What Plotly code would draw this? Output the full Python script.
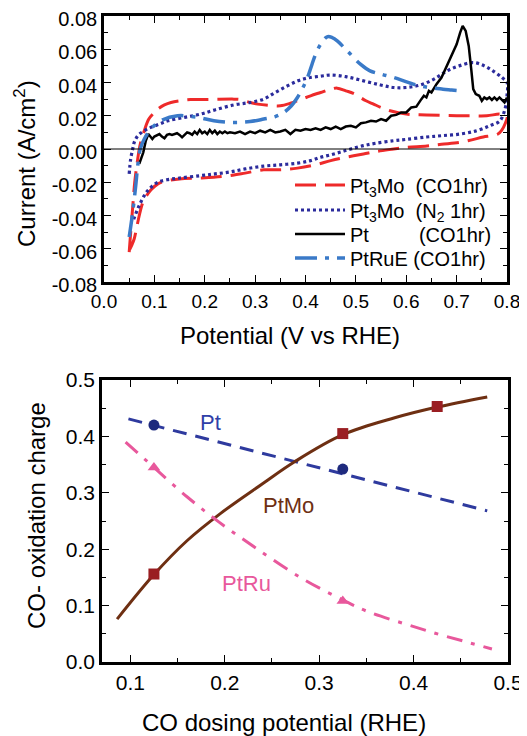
import plotly.graph_objects as go

# ---------------- top panel: cyclic voltammograms ----------------
pt3mo_co_v = [0.05, 0.053, 0.057, 0.061, 0.066, 0.072, 0.08, 0.089, 0.1, 0.107, 0.12, 0.133, 0.15, 0.172, 0.21, 0.258,
              0.27, 0.29, 0.305, 0.33, 0.35, 0.37, 0.39, 0.41, 0.43, 0.45, 0.463, 0.48, 0.495, 0.52, 0.535, 0.55,
              0.568, 0.6, 0.64, 0.7, 0.727, 0.76, 0.786, 0.8,
              0.796, 0.789, 0.782, 0.77, 0.753, 0.73, 0.707, 0.67, 0.641, 0.6, 0.575, 0.54, 0.515, 0.48, 0.45,
              0.42, 0.384, 0.35, 0.317, 0.28, 0.25, 0.218, 0.19, 0.15, 0.12, 0.107, 0.095, 0.087, 0.08, 0.075,
              0.07, 0.065, 0.06, 0.055, 0.05]
pt3mo_co_i = [-0.062, -0.05, -0.035, -0.02, -0.008, 0.003, 0.011, 0.018, 0.022, 0.024, 0.0265, 0.028, 0.029, 0.0297,
              0.0298, 0.030, 0.0298, 0.028, 0.027, 0.0262, 0.026, 0.0275, 0.0297, 0.032, 0.034, 0.036, 0.0366,
              0.035, 0.0335, 0.029, 0.027, 0.025, 0.023, 0.021, 0.0205, 0.020, 0.020, 0.020, 0.021, 0.020,
              0.015, 0.011, 0.009, 0.008, 0.0072, 0.0055, 0.004, 0.0028, 0.0018, 0.001, 0.0, -0.0015, -0.003,
              -0.005, -0.007, -0.0095, -0.0115, -0.0125, -0.0125, -0.0145, -0.016, -0.017, -0.0175, -0.018,
              -0.0195, -0.021, -0.024, -0.027, -0.030, -0.034, -0.04, -0.047, -0.054, -0.058, -0.061]

pt3mo_n2_v = [0.05, 0.053, 0.057, 0.06, 0.066, 0.073, 0.083, 0.093, 0.11, 0.127, 0.16, 0.192, 0.22, 0.258, 0.29,
              0.317, 0.34, 0.364, 0.385, 0.404, 0.43, 0.45, 0.48, 0.515, 0.549, 0.575, 0.6, 0.628, 0.655, 0.681,
              0.705, 0.733, 0.755, 0.772, 0.79, 0.8,
              0.8, 0.796, 0.786, 0.766, 0.74, 0.707, 0.67, 0.64, 0.6, 0.575, 0.54, 0.515, 0.49, 0.47, 0.45, 0.43,
              0.41, 0.384, 0.35, 0.317, 0.28, 0.25, 0.22, 0.192, 0.15, 0.125, 0.107, 0.095, 0.087, 0.08, 0.073,
              0.067, 0.063, 0.058]
pt3mo_n2_i = [-0.015, -0.006, 0.0, 0.004, 0.0075, 0.0096, 0.0115, 0.013, 0.015, 0.017, 0.019, 0.021, 0.0235, 0.0265,
              0.028, 0.030, 0.034, 0.038, 0.041, 0.0427, 0.0438, 0.0445, 0.0435, 0.041, 0.0385, 0.037, 0.037,
              0.0385, 0.042, 0.047, 0.050, 0.052, 0.050, 0.047, 0.043, 0.040,
              0.032, 0.024, 0.017, 0.014, 0.011, 0.009, 0.008, 0.0072, 0.0058, 0.005, 0.0035, 0.002, 0.0, -0.0018,
              -0.0035, -0.005, -0.007, -0.0085, -0.0095, -0.0103, -0.012, -0.0138, -0.015, -0.016, -0.0175,
              -0.0185, -0.020, -0.0225, -0.025, -0.028, -0.032, -0.036, -0.039, -0.043]

pt_co_v = [0.070, 0.078, 0.083, 0.088, 0.092, 0.096, 0.100, 0.105, 0.11, 0.115, 0.12, 0.125, 0.13, 0.135, 0.14,
           0.145, 0.15, 0.155, 0.16, 0.165, 0.17, 0.175, 0.18, 0.185, 0.19, 0.195, 0.2, 0.205, 0.21, 0.215, 0.22,
           0.225, 0.23, 0.235, 0.24, 0.245, 0.25, 0.26, 0.27, 0.28, 0.29, 0.3, 0.31, 0.32, 0.33, 0.34, 0.35, 0.36,
           0.37, 0.38, 0.39, 0.40, 0.41, 0.42, 0.43, 0.44, 0.45, 0.46, 0.47, 0.48, 0.49, 0.50, 0.51, 0.52, 0.53,
           0.54, 0.55, 0.555, 0.56, 0.57, 0.58, 0.59, 0.6, 0.61, 0.62, 0.63, 0.635, 0.64, 0.645, 0.65, 0.655,
           0.66, 0.67, 0.68, 0.69, 0.70, 0.707, 0.712, 0.718, 0.724, 0.729, 0.733, 0.738, 0.745, 0.75, 0.755,
           0.76, 0.765, 0.77, 0.775, 0.78, 0.785, 0.79, 0.795, 0.8]
pt_co_i = [-0.009, -0.002, 0.005, 0.009, 0.0075, 0.006, 0.0075, 0.0085, 0.009, 0.0075, 0.0065, 0.0085, 0.009,
           0.0085, 0.009, 0.0095, 0.0085, 0.007, 0.0085, 0.010, 0.0095, 0.0085, 0.0105, 0.009, 0.0115, 0.0095,
           0.0105, 0.009, 0.0115, 0.0095, 0.011, 0.009, 0.0105, 0.0095, 0.0105, 0.0095, 0.0100, 0.0095, 0.0105,
           0.009, 0.0105, 0.0095, 0.011, 0.010, 0.0115, 0.010, 0.0105, 0.0115, 0.009, 0.0115, 0.011, 0.012,
           0.0115, 0.0125, 0.0115, 0.013, 0.012, 0.0135, 0.012, 0.0135, 0.014, 0.013, 0.0155, 0.016, 0.017,
           0.0165, 0.018, 0.0175, 0.017, 0.020, 0.0205, 0.022, 0.022, 0.025, 0.0255, 0.030, 0.032, 0.031, 0.035,
           0.034, 0.037, 0.039, 0.043, 0.050, 0.056, 0.063, 0.070, 0.074, 0.071, 0.062, 0.048, 0.036, 0.033,
           0.032, 0.029, 0.031, 0.030, 0.031, 0.0295, 0.031, 0.0295, 0.031, 0.0295, 0.028, 0.031]

ptrue_co_v = [0.05, 0.057, 0.063, 0.067, 0.072, 0.08, 0.093, 0.113, 0.146, 0.186, 0.218, 0.258, 0.29, 0.317, 0.34,
              0.357, 0.372, 0.384, 0.395, 0.404, 0.413, 0.42, 0.43, 0.443, 0.453, 0.463, 0.483, 0.509, 0.528,
              0.55, 0.575, 0.614, 0.645, 0.673, 0.69, 0.707]
ptrue_co_i = [-0.053, -0.038, -0.022, -0.010, 0.0, 0.006, 0.012, 0.017, 0.020, 0.019, 0.017, 0.016, 0.0165, 0.018,
              0.0195, 0.022, 0.026, 0.031, 0.037, 0.043, 0.051, 0.057, 0.063, 0.0675, 0.067, 0.065, 0.059, 0.051,
              0.047, 0.045, 0.043, 0.039, 0.037, 0.036, 0.0355, 0.035]

top_x_ticks = [0.0, 0.1, 0.2, 0.3, 0.4, 0.5, 0.6, 0.7, 0.8]
top_y_ticks = [-0.08, -0.06, -0.04, -0.02, 0.00, 0.02, 0.04, 0.06, 0.08]

# ---------------- bottom panel: CO oxidation charge ----------------
dose_pts = [0.125, 0.325]
pt_charge = [0.420, 0.342]
ptru_charge = [0.345, 0.108]
ptmo_dose = [0.125, 0.325, 0.425]
ptmo_charge = [0.156, 0.405, 0.453]

pt_fit_x = [0.098, 0.478]
pt_fit_y = [0.431, 0.268]
ptmo_fit_x = [0.086, 0.125, 0.16, 0.196, 0.24, 0.274, 0.325, 0.38, 0.425, 0.478]
ptmo_fit_y = [0.076, 0.155, 0.215, 0.264, 0.316, 0.355, 0.403, 0.433, 0.452, 0.470]
ptru_fit_x = [0.095, 0.125, 0.16, 0.194, 0.233, 0.281, 0.325, 0.352, 0.39, 0.423, 0.455, 0.483]
ptru_fit_y = [0.390, 0.345, 0.293, 0.248, 0.202, 0.149, 0.110, 0.089, 0.068, 0.051, 0.036, 0.023]

bot_x_ticks = [0.1, 0.2, 0.3, 0.4, 0.5]
bot_y_ticks = [0.0, 0.1, 0.2, 0.3, 0.4, 0.5]

FONT = "Liberation Sans, Arial, sans-serif"
RED = "#EE2A2A"
NAVY = "#2B2B9C"
BLUE = "#3A7AC8"
BROWN = "#6E2F12"
PINK = "#E8589C"

fig = go.Figure()

fig.add_trace(go.Scatter(x=pt3mo_co_v, y=pt3mo_co_i, mode="lines", line=dict(color=RED, width=3, dash="21px,9px"),
                         name="Pt<sub>3</sub>Mo\u00a0\u00a0(CO1hr)", xaxis="x", yaxis="y", line_shape="spline",
                         legend="legend"))
fig.add_trace(go.Scatter(x=pt3mo_n2_v, y=pt3mo_n2_i, mode="lines", line=dict(color=NAVY, width=3.2, dash="3px,3px"),
                         name="Pt<sub>3</sub>Mo\u00a0\u00a0(N<sub>2</sub> 1hr)", xaxis="x", yaxis="y", line_shape="spline",
                         legend="legend2"))
fig.add_trace(go.Scatter(x=pt_co_v, y=pt_co_i, mode="lines", line=dict(color="black", width=2.5),
                         name="Pt\u00a0\u00a0\u00a0\u00a0\u00a0\u00a0\u00a0\u00a0\u00a0(CO1hr)", xaxis="x", yaxis="y",
                         legend="legend3"))
fig.add_trace(go.Scatter(x=ptrue_co_v, y=ptrue_co_i, mode="lines", line=dict(color=BLUE, width=3.5, dash="22px,8px,4px,8px"),
                         name="PtRuE (CO1hr)", xaxis="x", yaxis="y", line_shape="spline", legend="legend4"))

# bottom panel
fig.add_trace(go.Scatter(x=pt_fit_x, y=pt_fit_y, mode="lines", line=dict(color="#2E3A9E", width=3, dash="14px,9px"),
                         showlegend=False, xaxis="x2", yaxis="y2"))
fig.add_trace(go.Scatter(x=ptmo_fit_x, y=ptmo_fit_y, mode="lines", line=dict(color=BROWN, width=3),
                         line_shape="spline", showlegend=False, xaxis="x2", yaxis="y2"))
fig.add_trace(go.Scatter(x=ptru_fit_x, y=ptru_fit_y, mode="lines", line=dict(color=PINK, width=3, dash="16px,9px,4px,9px"),
                         line_shape="spline", showlegend=False, xaxis="x2", yaxis="y2"))
fig.add_trace(go.Scatter(x=dose_pts, y=pt_charge, mode="markers", marker=dict(symbol="circle", size=11, color="#1E2A7E"),
                         showlegend=False, xaxis="x2", yaxis="y2"))
fig.add_trace(go.Scatter(x=ptmo_dose, y=ptmo_charge, mode="markers", marker=dict(symbol="square", size=11, color="#9A1E22"),
                         showlegend=False, xaxis="x2", yaxis="y2"))
fig.add_trace(go.Scatter(x=dose_pts, y=ptru_charge, mode="markers", marker=dict(symbol="triangle-up", size=11, color=PINK),
                         showlegend=False, xaxis="x2", yaxis="y2"))

# the page is offset by the 8px body margin of the html page
OFF = 8
W, H = 527 - OFF, 736 - OFF
def fx(p):
    return (p - OFF) / W
def fy(p):
    return 1 - (p - OFF) / H

axis_common = dict(showline=True, linecolor="black", linewidth=2.5, mirror="ticks", ticks="inside", ticklen=7,
                   tickwidth=1, tickcolor="black", showgrid=False, zeroline=False, automargin=False,
                   ticklabeloverflow="allow")

legend_common = dict(xanchor="left", yanchor="middle", bgcolor="rgba(0,0,0,0)", borderwidth=0,
                     font=dict(family=FONT, size=20, color="black"), itemwidth=50)

fig.update_layout(
    width=W, height=H,
    margin=dict(l=0, r=0, t=0, b=0, autoexpand=False),
    paper_bgcolor="white", plot_bgcolor="white",
    font=dict(family=FONT, color="black"),
    xaxis=dict(domain=[fx(104), fx(507)], range=[0.0, 0.8], tickvals=top_x_ticks,
               ticktext=[f"{v:.1f}" for v in top_x_ticks], anchor="y",
               tickfont=dict(family=FONT, size=19, color="black"),
               minor=dict(dtick=0.05, ticks="inside", ticklen=4, tickcolor="black"), **axis_common),
    yaxis=dict(domain=[fy(282), fy(16)], range=[-0.08, 0.08], tickvals=top_y_ticks,
               ticktext=[f"{v:.2f}" for v in top_y_ticks], anchor="x", ticklabelshift=3,
               tickfont=dict(family=FONT, size=20, color="black"),
               minor=dict(dtick=0.01, ticks="inside", ticklen=4, tickcolor="black"), **axis_common),
    xaxis2=dict(domain=[fx(102), fx(508)], range=[0.07, 0.5], tickvals=bot_x_ticks,
                ticktext=[f"{v:.1f}" for v in bot_x_ticks], anchor="y2",
                tickfont=dict(family=FONT, size=21, color="black"),
                minor=dict(dtick=0.05, ticks="inside", ticklen=4, tickcolor="black"), **axis_common),
    yaxis2=dict(domain=[fy(662), fy(380)], range=[0.0, 0.5], tickvals=bot_y_ticks,
                ticktext=[f"{v:.1f}" for v in bot_y_ticks], anchor="x2",
                tickfont=dict(family=FONT, size=21, color="black"),
                minor=dict(dtick=0.05, ticks="inside", ticklen=4, tickcolor="black"), **axis_common),
    legend=dict(x=fx(290), y=fy(185), **legend_common),
    legend2=dict(x=fx(290), y=fy(210), **legend_common),
    legend3=dict(x=fx(290), y=fy(234), **legend_common),
    legend4=dict(x=fx(290), y=fy(258), **legend_common),
    showlegend=True,
)

# zero line of the top panel
fig.add_shape(type="line", xref="x", yref="y", x0=0.0, x1=0.8, y0=0, y1=0, line=dict(color="black", width=1))

# axis titles
title_font = dict(family=FONT, size=24, color="black")
fig.add_annotation(x=fx(290), y=fy(336), xref="paper", yref="paper", text="Potential (V vs RHE)",
                   showarrow=False, font=title_font, xanchor="center", yanchor="middle")
fig.add_annotation(x=fx(25), y=fy(164), xref="paper", yref="paper", text="Current (A/cm<sup>2</sup>)",
                   showarrow=False, font=title_font, textangle=-90, xanchor="center", yanchor="middle")
fig.add_annotation(x=fx(284), y=fy(722), xref="paper", yref="paper", text="CO dosing potential (RHE)",
                   showarrow=False, font=title_font, xanchor="center", yanchor="middle")
fig.add_annotation(x=fx(36), y=fy(516), xref="paper", yref="paper", text="CO- oxidation charge",
                   showarrow=False, font=title_font, textangle=-90, xanchor="center", yanchor="middle")

# curve labels in the bottom panel
fig.add_annotation(x=0.185, y=0.4255, xref="x2", yref="y2", text="Pt", showarrow=False,
                   font=dict(family=FONT, size=22, color="#3040A8"))
fig.add_annotation(x=0.268, y=0.278, xref="x2", yref="y2", text="PtMo", showarrow=False,
                   font=dict(family=FONT, size=22, color=BROWN))
fig.add_annotation(x=0.2234, y=0.14, xref="x2", yref="y2", text="PtRu", showarrow=False,
                   font=dict(family=FONT, size=22, color=PINK))

fig.write_html("out.html")
